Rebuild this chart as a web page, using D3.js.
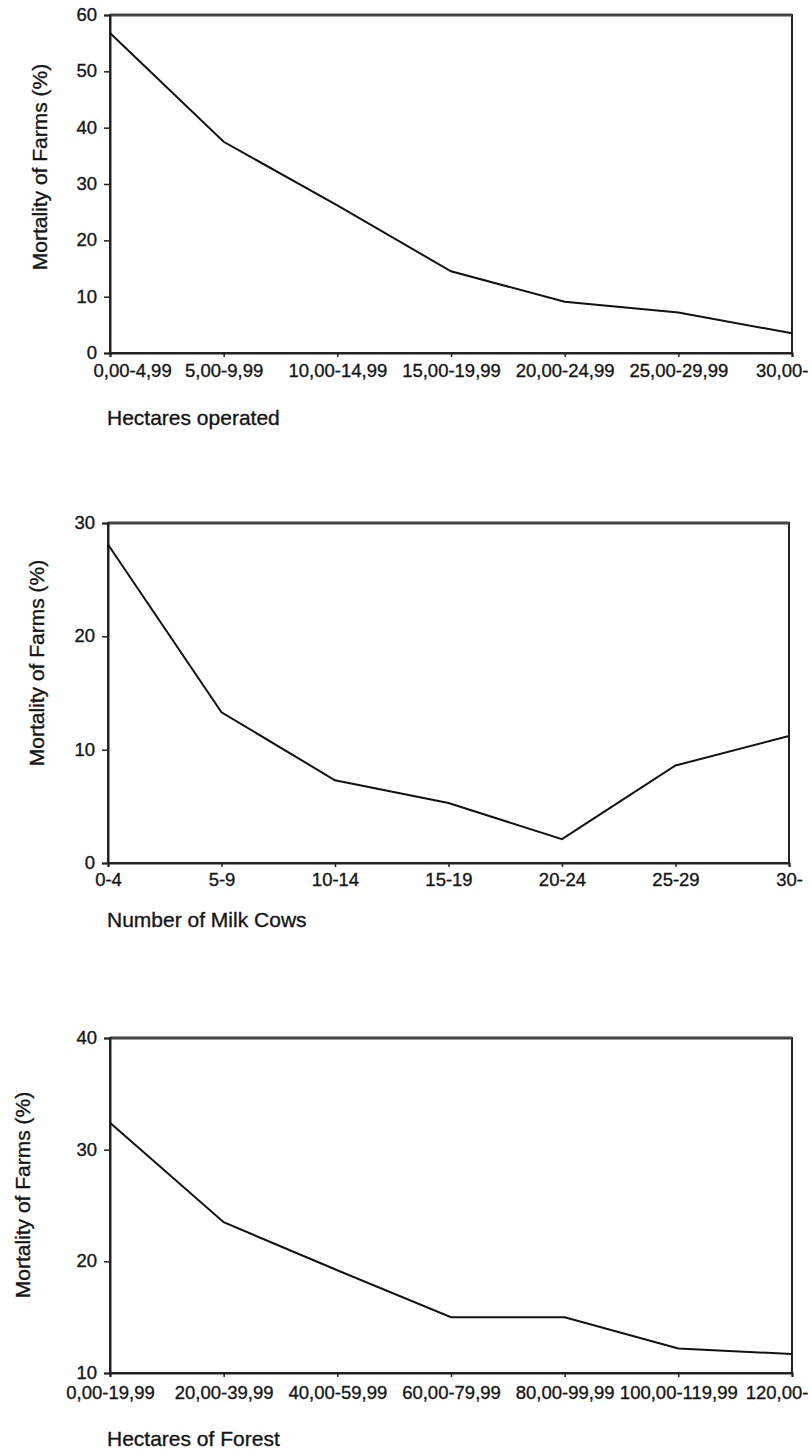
<!DOCTYPE html>
<html>
<head>
<meta charset="utf-8">
<script src="https://cdn.jsdelivr.net/npm/d3@7"></script>
<style>
  body { margin: 0; background: #fff; }
  text { font-family: "Liberation Sans", Arial, sans-serif; fill: #151515; stroke: #151515; stroke-width: 0.35px; }
</style>
</head>
<body>
<script>
'use strict'

// data
let hectaresCats = ['0,00-4,99', '5,00-9,99', '10,00-14,99', '15,00-19,99', '20,00-24,99', '25,00-29,99', '30,00-'],
    hectaresValues = [56.8, 37.5, 26.2, 14.5, 9.1, 7.2, 3.5],
    hectaresTicks = [0, 10, 20, 30, 40, 50, 60]

let cowsCats = ['0-4', '5-9', '10-14', '15-19', '20-24', '25-29', '30-'],
    cowsValues = [28.1, 13.3, 7.3, 5.3, 2.1, 8.6, 11.2],
    cowsTicks = [0, 10, 20, 30]

let forestCats = ['0,00-19,99', '20,00-39,99', '40,00-59,99', '60,00-79,99', '80,00-99,99', '100,00-119,99', '120,00-'],
    forestValues = [32.4, 23.5, 19.2, 15.0, 15.0, 12.2, 11.7],
    forestTicks = [10, 20, 30, 40]

let yTitle = 'Mortality of Farms (%)'

let width = 811,
    height = 1452,
    maxLabelRight = 808

let svg = d3.select('body').append('svg')
    .attr('width', width)
    .attr('height', height)

function drawPanel(opt) {
    let x = d3.scalePoint()
        .domain(opt.cats)
        .range([opt.left, opt.right])

    let y = d3.scaleLinear()
        .domain(d3.extent(opt.ticks))
        .range([opt.bottom, opt.top])

    let g = svg.append('g')

    // frame
    g.append('rect')
        .attr('x', opt.left)
        .attr('y', opt.top)
        .attr('width', opt.right - opt.left)
        .attr('height', opt.bottom - opt.top)
        .attr('fill', 'none')
        .attr('stroke', '#222')
        .attr('stroke-width', 2)

    g.append('line')
        .attr('x1', opt.left).attr('x2', opt.right)
        .attr('y1', opt.top).attr('y2', opt.top)
        .attr('stroke', '#444')
        .attr('stroke-width', 3)

    // y axis
    let yAxis = g.append('g')
        .attr('transform', 'translate(' + opt.left + ',0)')
        .call(d3.axisLeft(y).tickValues(opt.ticks).tickSize(6).tickPadding(7).tickFormat(d3.format('d')))
    yAxis.select('.domain').attr('stroke', '#222').attr('stroke-width', 2)
    yAxis.selectAll('.tick line').attr('stroke', '#222').attr('stroke-width', 1.5)
    yAxis.selectAll('.tick text')
        .attr('dy', '0.3em')
        .style('font-size', '18.5px')
        .attr('fill', '#151515')

    // x axis
    let xAxis = g.append('g')
        .attr('transform', 'translate(0,' + opt.bottom + ')')
        .call(d3.axisBottom(x).tickSize(4).tickPadding(opt.labelPad))
    xAxis.select('.domain').attr('stroke', '#222').attr('stroke-width', 2)
    xAxis.selectAll('.tick line').attr('stroke', '#222').attr('stroke-width', 1.5)
    xAxis.selectAll('.tick text')
        .style('font-size', '18.5px')
        .attr('fill', '#151515')
        .each(function(d) {
            let w = this.getComputedTextLength(),
                cx = x(d)
            if (cx + w / 2 > maxLabelRight) {
                d3.select(this).attr('x', maxLabelRight - w / 2 - cx)
            } else if (cx - w / 2 < opt.labelMinLeft) {
                d3.select(this).attr('x', opt.labelMinLeft + w / 2 - cx)
            }
        })

    // line
    let line = d3.line()
        .x((d, i) => x(opt.cats[i]))
        .y(d => y(d))

    g.append('path')
        .datum(opt.values)
        .attr('d', line)
        .attr('fill', 'none')
        .attr('stroke', '#111')
        .attr('stroke-width', 2)

    // titles
    g.append('text')
        .attr('transform', 'translate(' + opt.yTitleX + ',' + opt.yTitleY + ') rotate(-90)')
        .attr('text-anchor', 'middle')
        .style('font-size', '21px')
        .text(yTitle)

    g.append('text')
        .attr('x', 107)
        .attr('y', opt.xTitleY)
        .style('font-size', '21px')
        .text(opt.xTitle)
}

drawPanel({
    cats: hectaresCats, values: hectaresValues, ticks: hectaresTicks,
    left: 110, right: 792, top: 15, bottom: 353, labelPad: 7, labelMinLeft: 93,
    yTitleX: 47, yTitleY: 167, xTitle: 'Hectares operated', xTitleY: 425
})

drawPanel({
    cats: cowsCats, values: cowsValues, ticks: cowsTicks,
    left: 108, right: 789, top: 523, bottom: 863, labelPad: 6, labelMinLeft: 0,
    yTitleX: 44, yTitleY: 663, xTitle: 'Number of Milk Cows', xTitleY: 927
})

drawPanel({
    cats: forestCats, values: forestValues, ticks: forestTicks,
    left: 110, right: 792, top: 1038, bottom: 1373, labelPad: 9, labelMinLeft: 0,
    yTitleX: 30, yTitleY: 1195, xTitle: 'Hectares of Forest', xTitleY: 1446
})
</script>
</body>
</html>
